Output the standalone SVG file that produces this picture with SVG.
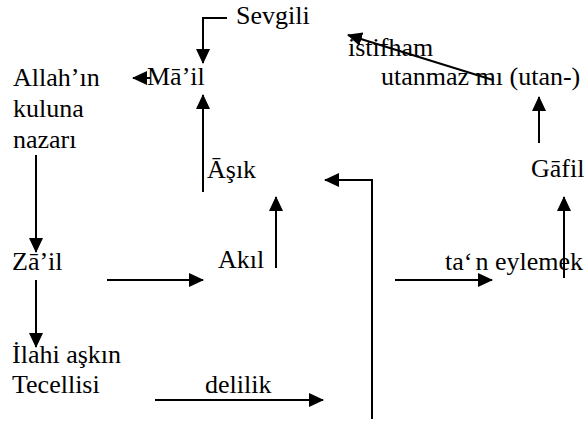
<svg xmlns="http://www.w3.org/2000/svg" width="584" height="421" viewBox="0 0 584 421" font-family="Liberation Serif">
<style>
.c{fill:none;stroke:#000;stroke-width:2}
</style>
<defs>
<marker id="ah" viewBox="0 0 15 14" refX="14" refY="7" markerWidth="15" markerHeight="14" markerUnits="userSpaceOnUse" orient="auto">
<path d="M0,0 L15,7 L0,14 Z" fill="#000"/>
</marker>
</defs>
<rect width="584" height="421" fill="#fff"/>
<g id="sevgili"><text font-family="Liberation Serif" font-size="26" x="236" y="24">Sevgili</text></g>
<g id="mail"><text font-family="Liberation Serif" font-size="26" x="147" y="85">M&#x101;&#x2019;il</text></g>
<g id="allah"><text font-family="Liberation Serif" font-size="26" x="13" y="86">Allah&#x2019;&#x131;n</text><text font-family="Liberation Serif" font-size="26" x="13" y="117">kuluna</text><text font-family="Liberation Serif" font-size="26" x="13" y="148">nazar&#x131;</text></g>
<g id="istifham"><text font-family="Liberation Serif" font-size="26" x="348" y="56">istifham</text></g>
<g id="utanmaz"><text font-family="Liberation Serif" font-size="26" x="381" y="85">utanmaz m&#x131; (utan-)</text></g>
<g id="asik"><text font-family="Liberation Serif" font-size="26" x="207" y="178">&#x100;&#x15F;&#x131;k</text></g>
<g id="gafil"><text font-family="Liberation Serif" font-size="26" x="531" y="177">G&#x101;fil</text></g>
<g id="akil"><text font-family="Liberation Serif" font-size="26" x="218" y="268">Ak&#x131;l</text></g>
<g id="zail"><text font-family="Liberation Serif" font-size="26" x="12" y="270">Z&#x101;&#x2019;il</text></g>
<g id="tan"><text font-family="Liberation Serif" font-size="26" x="445" y="270">ta&#x2018;<tspan dx="3">n eylemek</tspan></text></g>
<g id="ilahi"><text font-family="Liberation Serif" font-size="26" x="12" y="363">&#x130;lahi a&#x15F;k&#x131;n</text><text font-family="Liberation Serif" font-size="26" x="12" y="393">Tecellisi</text></g>
<g id="delilik"><text font-family="Liberation Serif" font-size="26" x="205" y="393">delilik</text></g>
<g id="connectors">
<polyline class="c" points="227,18 203,18 203,63" marker-end="url(#ah)"/>
<line class="c" x1="150" y1="78" x2="133" y2="78" marker-end="url(#ah)"/>
<line class="c" x1="203" y1="192" x2="203" y2="95" marker-end="url(#ah)"/>
<line class="c" x1="36" y1="155" x2="36" y2="252" marker-end="url(#ah)"/>
<line class="c" x1="36" y1="280" x2="36" y2="347" marker-end="url(#ah)"/>
<line class="c" x1="107" y1="280" x2="203" y2="280" marker-end="url(#ah)"/>
<line class="c" x1="276" y1="268" x2="276" y2="197" marker-end="url(#ah)"/>
<line class="c" x1="155" y1="400" x2="323" y2="400" marker-end="url(#ah)"/>
<polyline class="c" points="372,419 372,180 325,180" marker-end="url(#ah)"/>
<line class="c" x1="395" y1="280" x2="492" y2="280" marker-end="url(#ah)"/>
<line class="c" x1="564" y1="278" x2="564" y2="197" marker-end="url(#ah)"/>
<line class="c" x1="539" y1="143" x2="539" y2="97" marker-end="url(#ah)"/>
<line class="c" x1="493" y1="80" x2="348" y2="35" marker-end="url(#ah)"/>
</g>
</svg>
